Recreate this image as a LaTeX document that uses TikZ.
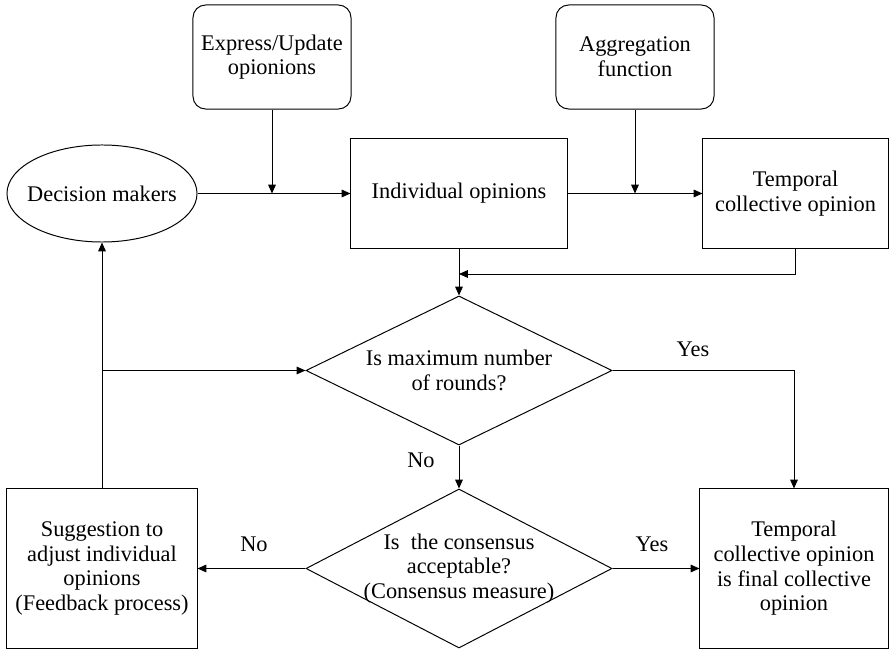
\documentclass[tikz,border=0pt]{standalone}
\usepackage{fontspec}
\setmainfont{Liberation Serif}
\usetikzlibrary{arrows.meta, positioning, shapes.geometric}

\begin{document}
\begin{tikzpicture}[x=0.025cm, y=-0.025cm, line width=0.7pt,
  font=\fontsize{15.9}{17.5}\selectfont,
  procbox/.style={draw, rectangle, align=center, inner sep=2pt},
  inputbox/.style={draw, rectangle, rounded corners=9pt, align=center, minimum width=3.95cm, minimum height=2.6cm},
  decision/.style={draw, diamond, aspect=2, inner sep=-3mm, align=center, minimum width=7.65cm},
  flow/.style={-{Triangle[length=2.2mm, width=1.9mm]}}]
\useasboundingbox (0,0) rectangle (890,649);

\node[inputbox] (upd) at (272,57) {Express/Update\\opionions};
\node[inputbox] (agg) at (635,57) {Aggregation\\function};
\node[draw, ellipse, inner xsep=-3mm, minimum width=4.75cm, minimum height=2.425cm] (dm) at (102,193.5) {Decision makers};
\node[procbox, minimum width=5.4cm, minimum height=2.725cm]   (ind) at (459,193.5) {Individual opinions};
\node[procbox, minimum width=4.625cm, minimum height=2.725cm] (tco) at (795.5,193.5) {Temporal\\collective opinion};
\node[decision, minimum height=3.725cm] (maxr) at (459,370.5) {Is maximum number\\of rounds?};
\node[decision, minimum height=3.975cm] (cons) at (459,568.5) {Is\ \ the consensus\\acceptable?\\(Consensus measure)};
\node[procbox, minimum width=4.75cm, minimum height=3.975cm] (adj) at (102,568.5) {Suggestion to\\adjust individual\\opinions\\(Feedback process)};
\node[procbox, minimum width=4.7cm, minimum height=3.975cm]  (fin) at (794,568.5) {Temporal\\collective opinion\\is final collective\\opinion};

\coordinate (updj) at (upd.south |- dm.east);
\coordinate (aggj) at (agg.south |- ind.east);
\coordinate (tcoj) at (459,274);
\coordinate (fbj)  at (adj.north |- maxr.west);

\draw[flow] (dm.east) -- (ind.west);
\draw[flow] (upd.south) -- (updj);
\draw[flow] (ind.east) -- (tco.west);
\draw[flow] (agg.south) -- (aggj);
\draw[flow] (ind.south) -- (maxr.north);
\draw[flow] (tco.south) |- (tcoj);
\draw[flow] (maxr.east) -| (fin.north);
\draw[flow] (maxr.south) -- (cons.north);
\draw[flow] (cons.east) -- (fin.west);
\draw[flow] (cons.west) -- (adj.east);
\draw[flow] (adj.north) -- (dm.south);
\draw[flow] (fbj) -- (maxr.west);

\node (yes1) at (693,349) {Yes};
\node (no1)  at (421,460) {No};
\node (yes2) at (652,544) {Yes};
\node (no2)  at (254,544) {No};
\end{tikzpicture}
\end{document}
